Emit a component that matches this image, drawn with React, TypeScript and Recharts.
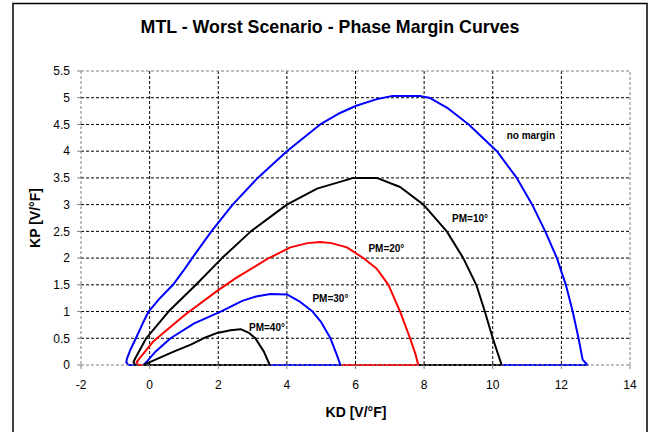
import React from "react";
import {
  LineChart,
  Line,
  XAxis,
  YAxis,
  CartesianGrid,
  ReferenceLine,
  ReferenceDot,
} from "recharts";

const title = "MTL - Worst Scenario - Phase Margin Curves";
const xLabel = "KD [V/°F]";
const yLabel = "KP [V/°F]";

const xTicks = [-2, 0, 2, 4, 6, 8, 10, 12, 14];
const yTicks = [0, 0.5, 1, 1.5, 2, 2.5, 3, 3.5, 4, 4.5, 5, 5.5];

// [KD, KP] pairs, each curve closed back along KP = 0
const noMargin: [number, number][] = [
  [-0.62, 0], [-0.68, 0.05], [-0.66, 0.12], [-0.55, 0.3], [-0.4, 0.5], [-0.2, 0.78],
  [-0.03, 1.0], [0.3, 1.25], [0.68, 1.5], [0.97, 1.75], [1.24, 2.0], [1.8, 2.5], [2.42, 3.0],
  [3.15, 3.5], [4.0, 4.0], [4.97, 4.5], [5.5, 4.7], [6.02, 4.85], [6.6, 4.97], [7.05, 5.03],
  [7.9, 5.03], [8.15, 5.0], [8.7, 4.8], [9.3, 4.5], [10.12, 4.0], [10.7, 3.5],
  [11.15, 3.0], [11.53, 2.5], [11.87, 2.0], [12.13, 1.5], [12.33, 1.0], [12.5, 0.5],
  [12.62, 0.1], [12.76, 0], [-0.62, 0],
];
const pm10: [number, number][] = [
  [-0.42, 0], [-0.47, 0.05], [-0.44, 0.1], [-0.1, 0.5], [0.55, 1.0], [1.35, 1.5],
  [2.11, 2.0], [2.95, 2.5], [4.0, 3.0], [4.88, 3.3], [5.94, 3.5], [6.62, 3.5],
  [7.3, 3.33], [7.98, 3.0], [8.66, 2.5], [9.14, 2.0], [9.52, 1.5], [9.77, 1.0],
  [10.0, 0.5], [10.26, 0], [-0.42, 0],
];
const pm20: [number, number][] = [
  [-0.33, 0], [-0.38, 0.05], [-0.3, 0.12], [0.12, 0.45], [1.05, 0.95], [2.0, 1.4],
  [2.5, 1.62], [3.42, 1.98], [4.1, 2.2], [4.6, 2.28], [4.97, 2.3], [5.3, 2.28],
  [5.75, 2.2], [6.23, 2.0], [6.62, 1.8], [6.96, 1.5], [7.3, 1.0], [7.59, 0.5],
  [7.75, 0.2], [7.83, 0], [-0.33, 0],
];
const pm30: [number, number][] = [
  [-0.18, 0], [-0.1, 0.05], [0.17, 0.25], [0.61, 0.5], [1.3, 0.78], [2.07, 1.0],
  [2.7, 1.2], [3.1, 1.28], [3.52, 1.33], [4.0, 1.32], [4.39, 1.18], [4.75, 1.0],
  [5.0, 0.8], [5.27, 0.5], [5.45, 0.2], [5.56, 0], [-0.18, 0],
];
const pm40: [number, number][] = [
  [-0.18, 0], [0.17, 0.1], [0.7, 0.25], [1.2, 0.38], [1.57, 0.5], [1.97, 0.6],
  [2.36, 0.65], [2.65, 0.67], [2.9, 0.6], [3.08, 0.5], [3.33, 0.25], [3.5, 0], [-0.18, 0],
];

const seriesNames = ["no margin", "PM=10°", "PM=20°", "PM=30°", "PM=40°"];
const seriesData = [noMargin, pm10, pm20, pm30, pm40];
const seriesColors = ["#0000FF", "#000000", "#FF0000", "#0000FF", "#000000"];
// label anchor positions in data units [KD, KP]
const labelPos: [number, number][] = [
  [11.11, 4.29], [9.34, 2.74], [6.9, 2.18], [5.27, 1.24], [3.42, 0.71],
];

const FONT = "Arial, 'Liberation Sans', sans-serif";

export default function App() {
  const toRows = (arr: [number, number][]) => arr.map(([x, y]) => ({ x, y }));
  return (
    <div style={{ position: "absolute", left: 0, top: 0, width: 649, height: 432, background: "#fff" }}>
      <LineChart
        width={649}
        height={432}
        margin={{ top: 71, right: 19, bottom: 0, left: 0 }}
      >
        <CartesianGrid
          stroke="#000"
          strokeDasharray="3 2"
          horizontalValues={[0.5, 1, 1.5, 2, 2.5, 3, 3.5, 4, 4.5, 5]}
          verticalValues={[0, 2, 4, 6, 8, 10, 12]}
        />
        <XAxis
          dataKey="x"
          type="number"
          domain={[-2, 14]}
          ticks={xTicks}
          height={67}
          allowDuplicatedCategory={false}
          axisLine={{ stroke: "#808080", strokeDasharray: "3 2" }}
          tickLine={{ stroke: "#808080" }}
          tickSize={4}
          tickMargin={11}
          tick={{ fill: "#000", fontSize: 12, fontFamily: FONT }}
        />
        <YAxis
          dataKey="y"
          type="number"
          domain={[0, 5.5]}
          ticks={yTicks}
          width={81}
          axisLine={{ stroke: "#808080", strokeDasharray: "3 2" }}
          tickLine={{ stroke: "#808080" }}
          tickSize={4}
          tickMargin={7}
          tick={{ fill: "#000", fontSize: 12, fontFamily: FONT }}
        />
        <ReferenceLine y={5.5} stroke="#808080" strokeDasharray="3 2" />
        <ReferenceLine x={14} stroke="#808080" strokeDasharray="3 2" />
        {seriesData.map((d, i) => (
          <Line
            key={seriesNames[i]}
            data={toRows(d)}
            dataKey="y"
            name={seriesNames[i]}
            stroke={seriesColors[i]}
            strokeWidth={2}
            strokeLinejoin="round"
            dot={false}
            activeDot={false}
            type="linear"
            isAnimationActive={false}
          />
        ))}
        {labelPos.map(([x, y], i) => (
          <ReferenceDot
            key={"lbl" + i}
            x={x}
            y={y}
            r={0}
            fill="none"
            stroke="none"
            label={{
              value: seriesNames[i],
              position: "center",
              fontSize: 10,
              fontWeight: "bold",
              fontFamily: FONT,
              fill: "#000",
            }}
          />
        ))}
      </LineChart>
      <svg
        width={649}
        height={432}
        style={{ position: "absolute", left: 0, top: 0, pointerEvents: "none" }}
      >
        <rect x={13} y={3.5} width={634} height={440} fill="none" stroke="#000" strokeWidth={1.5} />
        <text x={330} y={33} textAnchor="middle" fontSize={17.8} fontWeight="bold" fontFamily={FONT} fill="#000">
          {title}
        </text>
        <text x={356} y={417} textAnchor="middle" fontSize={14} fontWeight="bold" fontFamily={FONT} fill="#000">
          {xLabel}
        </text>
        <text
          x={35}
          y={218}
          textAnchor="middle"
          dominantBaseline="central"
          fontSize={14}
          fontWeight="bold"
          fontFamily={FONT}
          fill="#000"
          transform="rotate(-90 35 218)"
        >
          {yLabel}
        </text>
      </svg>
    </div>
  );
}
